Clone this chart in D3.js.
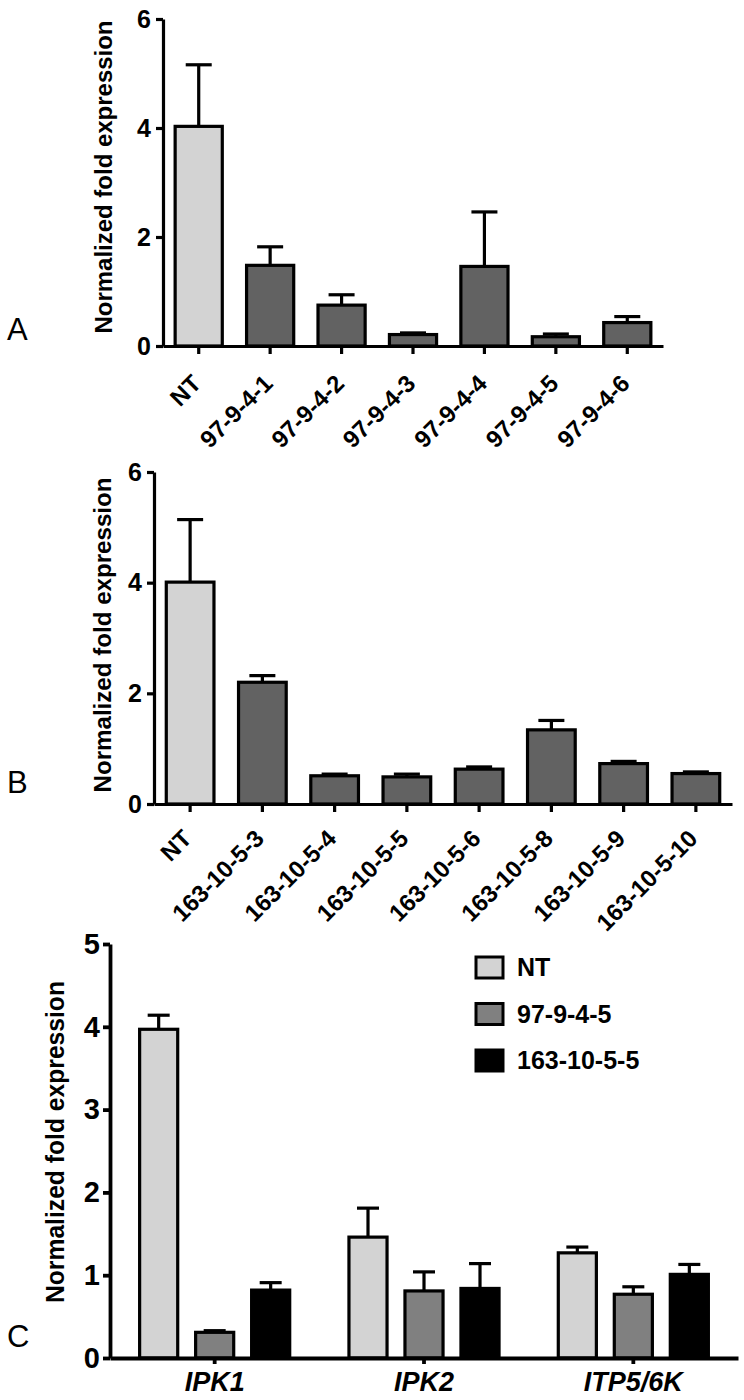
<!DOCTYPE html>
<html><head><meta charset="utf-8">
<script src="https://cdn.jsdelivr.net/npm/d3@7"></script>
<style>
body{margin:0;background:#fff;}
svg{display:block;font-family:"Liberation Sans",Arial,sans-serif;}
</style></head>
<body><svg id="chart" width="744" height="1400"></svg>
<script>
// ---- Panel A data ----
const catsA = ["NT","97-9-4-1","97-9-4-2","97-9-4-3","97-9-4-4","97-9-4-5","97-9-4-6"];
const meanA = [4.03,1.48,0.75,0.21,1.46,0.17,0.43];
const errA  = [1.13,0.34,0.19,0.03,1.00,0.05,0.11];
const ticksA = [0,2,4,6];
// ---- Panel B data ----
const catsB = ["NT","163-10-5-3","163-10-5-4","163-10-5-5","163-10-5-6","163-10-5-8","163-10-5-9","163-10-5-10"];
const meanB = [4.01,2.20,0.51,0.49,0.63,1.34,0.73,0.55];
const errB  = [1.13,0.12,0.03,0.05,0.04,0.17,0.04,0.03];
const ticksB = [0,2,4,6];
// ---- Panel C data ----
const genesC = ["IPK1","IPK2","ITP5/6K"];
const seriesC = ["NT","97-9-4-5","163-10-5-5"];
const meanC_NT  = [3.97,1.46,1.27];
const errC_NT   = [0.17,0.35,0.07];
const meanC_97  = [0.31,0.81,0.77];
const errC_97   = [0.02,0.23,0.09];
const meanC_163 = [0.82,0.84,1.01];
const errC_163  = [0.09,0.30,0.12];
const ticksC = [0,1,2,3,4,5];

const LIGHT="#d3d3d3", DARK="#626262", MID="#808080", BLACK="#000000";
const FONT = "Liberation Sans, Arial, sans-serif";
const svg = d3.select("#chart");
const yTitle = "Normalized fold expression";
const fmt = d3.format("d");

function simplePanel(cfg){
  const g = svg.append("g");
  const x = d3.scaleBand().domain(cfg.cats).range([cfg.x0,cfg.x1]).paddingInner(0.34).paddingOuter(0.17);
  const y = d3.scaleLinear().domain([0,6]).range([cfg.yb,cfg.yt]);
  const data = cfg.cats.map((c,i)=>({c,v:cfg.mean[i],e:cfg.err[i],i}));
  const eb = g.append("g").attr("stroke","#000").attr("stroke-width",3.2);
  data.forEach(d=>{
    const cx = x(d.c)+x.bandwidth()/2;
    eb.append("line").attr("x1",cx).attr("x2",cx).attr("y1",y(d.v)).attr("y2",y(d.v+d.e));
    eb.append("line").attr("x1",cx-13).attr("x2",cx+13).attr("y1",y(d.v+d.e)).attr("y2",y(d.v+d.e));
  });
  g.append("g").selectAll("rect").data(data).join("rect")
    .attr("x",d=>x(d.c)).attr("width",x.bandwidth())
    .attr("y",d=>y(d.v)).attr("height",d=>y(0)-y(d.v))
    .attr("fill",d=>d.i===0?LIGHT:DARK).attr("stroke","#000").attr("stroke-width",3.2);
  const ya = g.append("g").attr("transform",`translate(${cfg.x0},0)`)
    .call(d3.axisLeft(y).tickValues(cfg.ticks).tickFormat(fmt).tickSize(7).tickSizeOuter(0).tickPadding(5));
  ya.selectAll("path,line").attr("stroke","#000").attr("stroke-width",3.2);
  ya.selectAll("text").attr("font-size",25).attr("font-weight","bold").attr("fill","#000")
    .attr("font-family",FONT);
  const xa = g.append("g").attr("transform",`translate(0,${cfg.yb})`)
    .call(d3.axisBottom(x).tickSize(8).tickSizeOuter(0));
  xa.selectAll("path,line").attr("stroke","#000").attr("stroke-width",3.2);
  xa.selectAll("text")
    .attr("font-size",24).attr("font-weight","bold").attr("fill","#000")
    .attr("font-family",FONT)
    .attr("text-anchor","end").attr("dy",0).attr("y",0)
    .attr("transform",`translate(${cfg.lx},${cfg.ly}) rotate(-45)`);
  g.append("text").attr("transform",`translate(${cfg.tx},${cfg.ty}) rotate(-90)`)
    .attr("text-anchor","middle").attr("font-size",24).attr("font-weight","bold")
    .attr("font-family",FONT)
    .attr("textLength",cfg.tlen).attr("lengthAdjust","spacingAndGlyphs").text(yTitle);
  g.append("text").attr("x",7).attr("y",cfg.letterY).attr("font-size",31)
    .attr("font-family",FONT).text(cfg.letter);
}

simplePanel({cats:catsA,mean:meanA,err:errA,ticks:ticksA,x0:163,x1:663,yb:346,yt:19,
  lx:4,ly:39,tx:112,ty:177,tlen:313,letter:"A",letterY:340});
simplePanel({cats:catsB,mean:meanB,err:errB,ticks:ticksB,x0:154,x1:732,yb:804,yt:472,
  lx:3,ly:36,tx:111,ty:635,tlen:315,letter:"B",letterY:793});

// ---- Panel C ----
(function(){
  const g = svg.append("g");
  const X0=110, X1=738, YB=1358, YT=944;
  const x0 = d3.scaleBand().domain(genesC).range([X0,X1]);
  const x1 = d3.scaleBand().domain(seriesC).range([-84,84]).paddingInner(0.32).paddingOuter(0.16);
  const y = d3.scaleLinear().domain([0,5]).range([YB,YT]);
  const means = [meanC_NT,meanC_97,meanC_163];
  const errs = [errC_NT,errC_97,errC_163];
  const fills = [LIGHT,MID,BLACK];
  const data=[];
  genesC.forEach((gn,gi)=>seriesC.forEach((s,si)=>data.push({gn,s,si,v:means[si][gi],e:errs[si][gi]})));
  const eb = g.append("g").attr("stroke","#000").attr("stroke-width",3.2);
  data.forEach(d=>{
    const cx = x0(d.gn)+x0.bandwidth()/2 + x1(d.s)+x1.bandwidth()/2;
    eb.append("line").attr("x1",cx).attr("x2",cx).attr("y1",y(d.v)).attr("y2",y(d.v+d.e));
    eb.append("line").attr("x1",cx-11).attr("x2",cx+11).attr("y1",y(d.v+d.e)).attr("y2",y(d.v+d.e));
  });
  g.append("g").selectAll("rect").data(data).join("rect")
    .attr("x",d=>x0(d.gn)+x0.bandwidth()/2+x1(d.s)).attr("width",x1.bandwidth())
    .attr("y",d=>y(d.v)).attr("height",d=>y(0)-y(d.v))
    .attr("fill",d=>fills[d.si]).attr("stroke","#000").attr("stroke-width",3.2);
  const ya = g.append("g").attr("transform",`translate(${X0},0)`)
    .call(d3.axisLeft(y).tickValues(ticksC).tickFormat(fmt).tickSize(7).tickSizeOuter(0).tickPadding(3));
  ya.selectAll("path,line").attr("stroke","#000").attr("stroke-width",3.8);
  ya.selectAll("text").attr("font-size",29).attr("font-weight","bold").attr("fill","#000")
    .attr("font-family",FONT);
  const xa = g.append("g").attr("transform",`translate(0,${YB})`)
    .call(d3.axisBottom(x0).tickSize(6).tickSizeOuter(0).tickPadding(8));
  xa.selectAll("path,line").attr("stroke","#000").attr("stroke-width",3.8);
  xa.selectAll("text").attr("font-size",27).attr("font-weight","bold").attr("font-style","italic")
    .attr("fill","#000").attr("font-family",FONT);
  g.append("text").attr("transform",`translate(64,1142) rotate(-90)`)
    .attr("text-anchor","middle").attr("font-size",25).attr("font-weight","bold")
    .attr("font-family",FONT)
    .attr("textLength",322).attr("lengthAdjust","spacingAndGlyphs").text(yTitle);
  g.append("text").attr("x",7).attr("y",1347).attr("font-size",31)
    .attr("font-family",FONT).text("C");
  const lg = g.append("g");
  seriesC.forEach((s,i)=>{
    const yy = 957 + i*46.5;
    lg.append("rect").attr("x",476).attr("y",yy).attr("width",27).attr("height",21)
      .attr("fill",fills[i]).attr("stroke","#000").attr("stroke-width",3);
    lg.append("text").attr("x",517).attr("y",yy+19).attr("font-size",25).attr("font-weight","bold")
      .attr("font-family",FONT).text(s);
  });
})();
</script></body></html>
